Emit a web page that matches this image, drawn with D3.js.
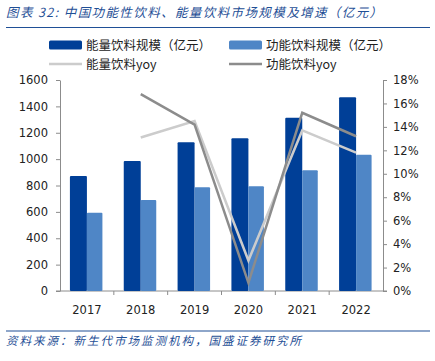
<!DOCTYPE html>
<html lang="zh">
<head>
<meta charset="UTF-8">
<title>功能性饮料、能量饮料市场规模</title>
<script src="https://cdn.jsdelivr.net/npm/d3@7"></script>
<style>
    body { margin: 0; background: #fff; }
    text { font-family: "DejaVu Sans", "Noto Sans CJK SC", sans-serif; }
    .cjk { font-family: "Noto Sans CJK SC", sans-serif; }
    .axis path, .axis line { stroke: #8c8c8c; }
    .axis text { font-size: 11.5px; fill: #222; }
</style>
</head>
<body>
<div id="chart"></div>
<script>
    var years = ["2017", "2018", "2019", "2020", "2021", "2022"];
    var energySize = [872, 986, 1128, 1158, 1314, 1469];
    var functionalSize = [594, 690, 786, 794, 915, 1034];
    var energyYoy = [null, 13.1, 14.5, 2.6, 13.7, 11.8];
    var functionalYoy = [null, 16.8, 14.2, 0.7, 15.2, 13.2];
    var leftTicks = [0, 200, 400, 600, 800, 1000, 1200, 1400, 1600];
    var rightTicks = [0, 2, 4, 6, 8, 10, 12, 14, 16, 18];

    var width = 435, height = 361;
    var blue = "#1f4f96";

    var svg = d3.select("#chart").append("svg")
        .attr("width", width)
        .attr("height", height);

    // title + rules
    svg.append("text").attr("class", "cjk")
        .attr("x", 6).attr("y", 17)
        .attr("font-size", 12.5).attr("font-style", "italic")
        .attr("letter-spacing", 1.4)
        .attr("fill", blue)
        .text("图表 32:  中国功能性饮料、能量饮料市场规模及增速（亿元）");
    svg.append("line").attr("x1", 6).attr("x2", 430).attr("y1", 27.5).attr("y2", 27.5)
        .attr("stroke", blue).attr("stroke-width", 1.2);
    svg.append("line").attr("x1", 6).attr("x2", 430).attr("y1", 331).attr("y2", 331)
        .attr("stroke", blue).attr("stroke-width", 1.2);
    svg.append("text").attr("class", "cjk")
        .attr("x", 6).attr("y", 345)
        .attr("font-size", 11.5).attr("font-style", "italic")
        .attr("letter-spacing", 2)
        .attr("fill", blue)
        .text("资料来源：新生代市场监测机构，国盛证券研究所");

    // legend
    var legend = [
        {label: "能量饮料规模（亿元）", type: "bar", color: "#003f97", x: 49, y: 45},
        {label: "功能饮料规模（亿元）", type: "bar", color: "#4f86c6", x: 229, y: 45},
        {label: "能量饮料yoy", type: "line", color: "#cccccc", x: 49, y: 64},
        {label: "功能饮料yoy", type: "line", color: "#8c8c8c", x: 229, y: 64}
    ];
    var lg = svg.append("g").selectAll("g").data(legend).enter().append("g");
    lg.filter(function(d) { return d.type === "bar"; }).append("rect")
        .attr("x", function(d) { return d.x; })
        .attr("y", function(d) { return d.y - 4.5; })
        .attr("width", 33).attr("height", 9).attr("rx", 1.5)
        .attr("fill", function(d) { return d.color; });
    lg.filter(function(d) { return d.type === "line"; }).append("line")
        .attr("x1", function(d) { return d.x; })
        .attr("x2", function(d) { return d.x + 33; })
        .attr("y1", function(d) { return d.y; })
        .attr("y2", function(d) { return d.y; })
        .attr("stroke", function(d) { return d.color; })
        .attr("stroke-width", 2.5);
    lg.append("text").attr("class", "cjk")
        .attr("x", function(d) { return d.x + 37; })
        .attr("y", function(d) { return d.y + 4.5; })
        .attr("font-size", 12.5).attr("fill", "#222")
        .text(function(d) { return d.label; });

    // scales
    var x0 = 60, x1 = 383, yTop = 80, yBot = 291;
    var x = d3.scaleBand().domain(years).range([x0, x1]);
    var yL = d3.scaleLinear().domain([0, 1600]).range([yBot, yTop]);
    var yR = d3.scaleLinear().domain([0, 18]).range([yBot, yTop]);

    // axes
    svg.append("g").attr("class", "axis")
        .attr("transform", "translate(" + x0 + ",0)")
        .call(d3.axisLeft(yL).tickValues(leftTicks).tickSize(4).tickPadding(6).tickSizeOuter(0)
            .tickFormat(d3.format("d")))
        .selectAll("text").attr("dx", "-2");
    svg.append("g").attr("class", "axis")
        .attr("transform", "translate(" + x1 + ",0)")
        .call(d3.axisRight(yR).tickValues(rightTicks).tickSize(4).tickPadding(6).tickSizeOuter(0)
            .tickFormat(function(d) { return d + "%"; }));

    var xa = svg.append("g").attr("class", "axis")
        .attr("transform", "translate(0," + yBot + ")");
    xa.append("line").attr("x1", x0 - 4).attr("x2", x1 + 4)
        .attr("stroke", "#8c8c8c");
    xa.selectAll(".tk").data(years.slice(1)).enter().append("line")
        .attr("x1", function(d) { return x(d); })
        .attr("x2", function(d) { return x(d); })
        .attr("y1", 0).attr("y2", 4)
        .attr("stroke", "#8c8c8c");
    xa.selectAll("text").data(years).enter().append("text")
        .attr("x", function(d) { return x(d) + x.bandwidth() / 2; })
        .attr("y", 23)
        .attr("text-anchor", "middle")
        .text(function(d) { return d; });

    // bars
    var bw = 17;
    svg.append("g").selectAll("rect").data(energySize).enter().append("rect")
        .attr("x", function(d, i) { return x(years[i]) + x.bandwidth() / 2 - bw; })
        .attr("y", function(d) { return yL(d); })
        .attr("width", bw)
        .attr("height", function(d) { return yBot - yL(d); })
        .attr("rx", 1)
        .attr("fill", "#003f97");
    svg.append("g").selectAll("rect").data(functionalSize).enter().append("rect")
        .attr("x", function(d, i) { return x(years[i]) + x.bandwidth() / 2; })
        .attr("y", function(d) { return yL(d); })
        .attr("width", bw - 1.5)
        .attr("height", function(d) { return yBot - yL(d); })
        .attr("rx", 1)
        .attr("fill", "#4f86c6");

    // lines
    var line = d3.line()
        .defined(function(d) { return d !== null; })
        .x(function(d, i) { return x(years[i]) + x.bandwidth() / 2; })
        .y(function(d) { return yR(d); });
    svg.append("path").datum(energyYoy)
        .attr("d", line).attr("fill", "none")
        .attr("stroke", "#cccccc").attr("stroke-width", 2.5);
    svg.append("path").datum(functionalYoy)
        .attr("d", line).attr("fill", "none")
        .attr("stroke", "#8c8c8c").attr("stroke-width", 2.5);
</script>
</body>
</html>
